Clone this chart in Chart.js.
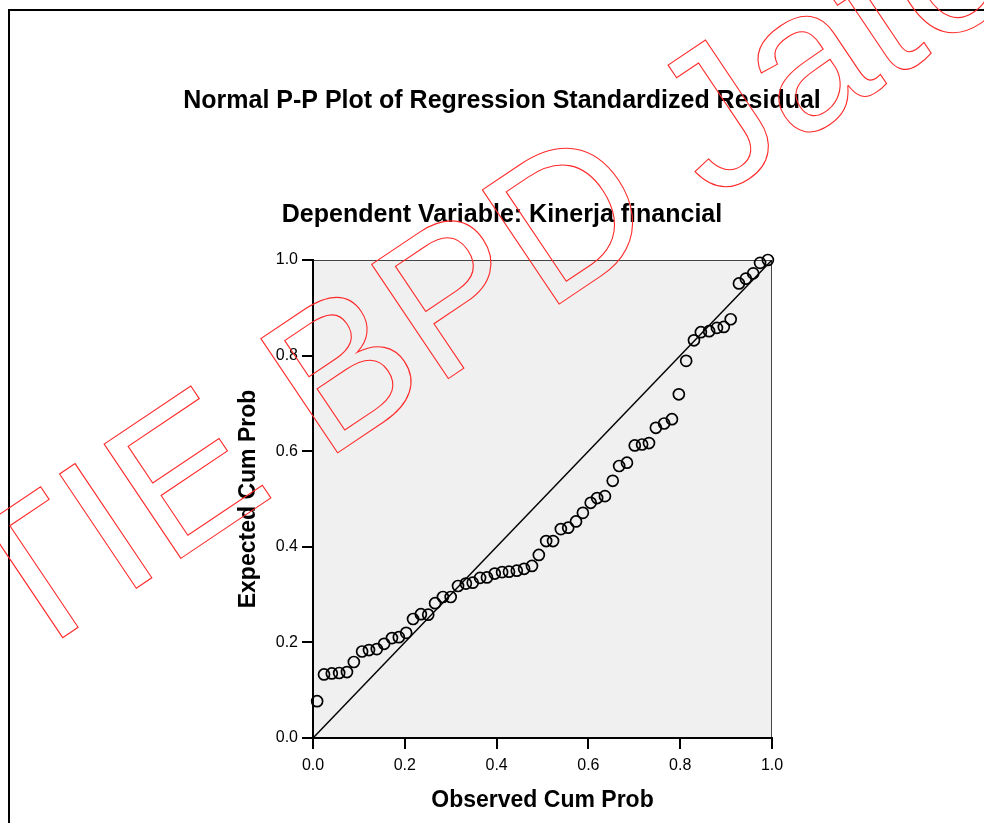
<!DOCTYPE html>
<html>
<head>
<meta charset="utf-8">
<script src="https://cdn.jsdelivr.net/npm/chart.js@4"></script>
<style>
  html, body { margin: 0; padding: 0; background: #fff; }
  #wrap { width: 984px; height: 823px; position: relative; }
</style>
</head>
<body>
<div id="wrap"><canvas id="ppChart" width="984" height="823"></canvas></div>
<script>
// observed vs expected cumulative probability
const obsCum = [0.009, 0.024, 0.041, 0.057, 0.074, 0.089, 0.107, 0.122, 0.139, 0.155,
  0.172, 0.187, 0.203, 0.218, 0.235, 0.251, 0.266, 0.283, 0.300, 0.316,
  0.333, 0.348, 0.364, 0.379, 0.396, 0.412, 0.427, 0.444, 0.460, 0.477,
  0.492, 0.508, 0.523, 0.540, 0.556, 0.573, 0.588, 0.605, 0.619, 0.636,
  0.653, 0.667, 0.684, 0.701, 0.717, 0.732, 0.747, 0.765, 0.782, 0.797,
  0.813, 0.830, 0.845, 0.863, 0.880, 0.895, 0.910, 0.928, 0.943, 0.959,
  0.974, 0.991];
const expCum = [0.077, 0.133, 0.135, 0.136, 0.138, 0.159, 0.181, 0.184, 0.186, 0.197,
  0.209, 0.211, 0.220, 0.249, 0.259, 0.258, 0.282, 0.295, 0.295, 0.318,
  0.323, 0.325, 0.335, 0.336, 0.344, 0.347, 0.348, 0.350, 0.354, 0.360,
  0.383, 0.412, 0.412, 0.437, 0.440, 0.453, 0.471, 0.492, 0.502, 0.506,
  0.538, 0.569, 0.576, 0.612, 0.614, 0.617, 0.649, 0.658, 0.667, 0.719,
  0.789, 0.832, 0.849, 0.851, 0.858, 0.860, 0.876, 0.951, 0.961, 0.972,
  0.994, 1.000];
const refLineX = [0, 1];
const refLineY = [0, 1];
const tickValues = [0, 0.2, 0.4, 0.6, 0.8, 1.0];

const chartTitle = "Normal P-P Plot of Regression Standardized Residual";
const chartSubtitle = "Dependent Variable: Kinerja financial";
const xTitle = "Observed Cum Prob";
const yTitle = "Expected Cum Prob";
const watermark = "STIE BPD Jateng";

Chart.defaults.font.family = "'Liberation Sans', Arial, sans-serif";
Chart.defaults.color = "#000";

const points = obsCum.map((x, i) => ({ x: x, y: expCum[i] }));
const refLine = refLineX.map((x, i) => ({ x: x, y: refLineY[i] }));

// white page, outer frame and grey plot area
const backdrop = {
  id: "backdrop",
  beforeDraw(chart) {
    const ctx = chart.ctx;
    const a = chart.chartArea;
    ctx.save();
    ctx.fillStyle = "#fff";
    ctx.fillRect(0, 0, chart.width, chart.height);
    ctx.strokeStyle = "#000";
    ctx.lineWidth = 2;
    ctx.strokeRect(9, 10, chart.width + 20, chart.height + 20);
    ctx.fillStyle = "#f0f0f0";
    ctx.fillRect(a.left, a.top, a.right - a.left, a.bottom - a.top);
    ctx.strokeStyle = "#444";
    ctx.lineWidth = 1;
    ctx.beginPath();
    ctx.moveTo(a.left, a.top + 0.5);
    ctx.lineTo(a.right - 0.5, a.top + 0.5);
    ctx.lineTo(a.right - 0.5, a.bottom);
    ctx.stroke();
    ctx.restore();
  }
};

// red outlined watermark drawn over everything
const stamp = {
  id: "stamp",
  afterDraw(chart) {
    const ctx = chart.ctx;
    ctx.save();
    ctx.translate(-91, 741);
    ctx.rotate(-33.9 * Math.PI / 180);
    ctx.font = "200px 'Liberation Sans', Arial, sans-serif";
    ctx.textBaseline = "alphabetic";
    ctx.strokeStyle = "#ff2a2a";
    ctx.lineWidth = 1.1;
    ctx.strokeText(watermark, 0, 0);
    ctx.restore();
  }
};

const axisBase = {
  type: "linear",
  min: 0,
  max: 1,
  border: { color: "#000", width: 2 },
  grid: { drawOnChartArea: false, drawTicks: true, tickLength: 11, color: "#000", lineWidth: 2 },
  afterBuildTicks: (s) => { s.ticks = tickValues.map(v => ({ value: v })); }
};

new Chart(document.getElementById("ppChart"), {
  type: "scatter",
  data: {
    datasets: [
      {
        data: points,
        pointStyle: "circle",
        pointRadius: 5.5,
        pointBorderWidth: 1.7,
        pointBorderColor: "#000",
        pointBackgroundColor: "rgba(0,0,0,0)",
        clip: false
      },
      {
        data: refLine,
        showLine: true,
        borderColor: "#000",
        borderWidth: 1.5,
        pointRadius: 0
      }
    ]
  },
  options: {
    responsive: false,
    animation: false,
    layout: { padding: { left: 20, right: 0, top: 0, bottom: 0 } },
    plugins: {
      legend: { display: false },
      tooltip: { enabled: false },
      title: {
        display: true,
        text: chartTitle,
        color: "#000",
        font: { size: 25, weight: "bold" },
        padding: { top: 86, bottom: 0 }
      },
      subtitle: {
        display: true,
        text: chartSubtitle,
        color: "#000",
        font: { size: 25, weight: "bold" },
        padding: { top: 84, bottom: 30 }
      }
    },
    scales: {
      x: Object.assign({}, axisBase, {
        position: "bottom",
        ticks: { font: { size: 16 }, color: "#000", padding: 7, maxRotation: 0,
                 callback: (v) => Number(v).toFixed(1) },
        title: { display: true, text: xTitle, color: "#000",
                 font: { size: 23, weight: "bold" }, padding: { top: 0, bottom: 9 } },
        afterFit: (s) => { s.height = 85; }
      }),
      y: Object.assign({}, axisBase, {
        position: "left",
        ticks: { font: { size: 16 }, color: "#000", padding: 4,
                 callback: (v) => Number(v).toFixed(1) },
        title: { display: true, text: yTitle, color: "#000",
                 font: { size: 23, weight: "bold" }, padding: { top: 215, bottom: 0 } },
        afterFit: (s) => { s.width = 293; }
      }),
      // empty spacer on the right so the plot keeps its place
      spacer: {
        type: "linear",
        position: "right",
        display: true,
        ticks: { display: false },
        grid: { display: false, drawTicks: false },
        border: { display: false },
        afterFit: (s) => { s.width = 212; }
      }
    }
  },
  plugins: [backdrop, stamp]
});
</script>
</body>
</html>
